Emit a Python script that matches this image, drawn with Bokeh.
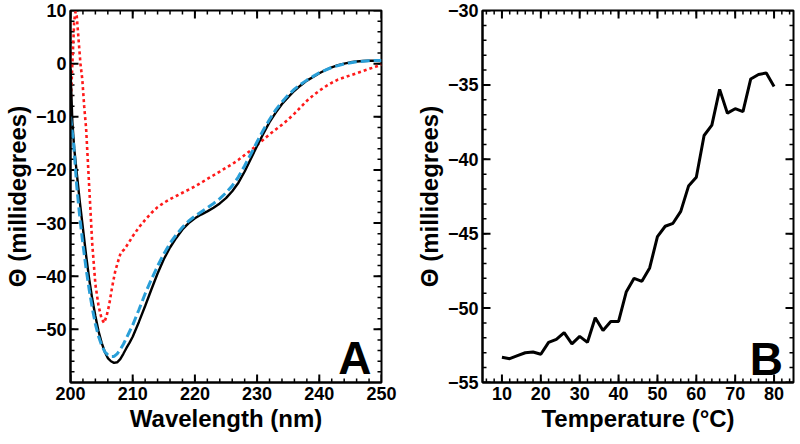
from bokeh.plotting import figure
from bokeh.layouts import row
from bokeh.models import FixedTicker, Label, Range1d
from bokeh.embed import file_html
from bokeh.resources import INLINE

# ---- Panel A data: CD spectra ----
wl_black = [200, 200.3, 200.6, 201, 201.5, 202, 202.5, 203, 203.5, 204, 204.5, 205, 205.5, 206,
            206.5, 207, 207.5, 208, 208.5, 209, 209.5, 210, 211, 212, 213, 214, 215, 216, 217,
            218, 219, 220, 221, 222, 223, 224, 225, 226, 227, 228, 229, 230, 231, 232, 233, 234,
            235, 236, 237, 238, 239, 240, 241, 242, 243, 244, 245, 246, 247, 248, 249, 250]
theta_black = [-1, -11, -16, -20.5, -26, -31, -36, -40.5, -44.3, -47.5, -50.3, -52.5, -54.2, -55.4,
               -56, -56.3, -56.2, -55.6, -54.6, -53.5, -52.5, -51.4, -48.6, -45.6, -42.5, -39.5,
               -36.8, -34.6, -32.8, -31.2, -30, -29.1, -28.4, -27.8, -27.1, -26.3, -25.3, -24,
               -22.4, -20.3, -17.9, -15.5, -13.2, -11, -9.2, -7.6, -6.3, -5.1, -4.1, -3.2, -2.5,
               -1.8, -1.2, -0.7, -0.3, 0, 0.25, 0.4, 0.5, 0.55, 0.55, 0.5]

wl_blue = [200, 200.5, 201, 201.5, 202, 202.5, 203, 203.5, 204, 204.5, 205, 205.5, 206, 206.5,
           207, 207.5, 208, 208.5, 209, 209.5, 210, 211, 212, 213, 214, 215, 216, 217, 218, 219,
           220, 221, 222, 223, 224, 225, 226, 227, 228, 229, 230, 231, 232, 233, 234, 235, 236,
           237, 238, 239, 240, 242, 244, 246, 248, 250]
theta_blue = [-10, -15, -23, -29, -34, -38.5, -42.5, -46, -49, -51.3, -53, -54.2, -54.8, -55.1,
              -55.1, -54.6, -53.8, -52.8, -51.6, -50.4, -49.2, -46.3, -43.3, -40.6, -38.1, -35.8,
              -33.8, -32.2, -30.8, -29.6, -28.7, -27.9, -27.1, -26.3, -25.4, -24.3, -23, -21.3,
              -19.2, -17, -14.7, -12.5, -10.5, -8.7, -7.2, -5.9, -4.8, -3.9, -3.1, -2.4, -1.7,
              -0.7, -0.05, 0.35, 0.55, 0.6]

wl_red = [200, 200.3, 200.6, 200.8, 201.0, 201.3, 201.6, 201.9, 202.2, 202.5, 203.0, 203.5, 204.0,
          204.5, 205.0, 205.4, 205.8, 206.2, 206.7, 207.2, 207.7, 208.1, 208.6, 209.2, 210, 211,
          212, 213, 214, 215, 216, 217, 218, 219, 220, 221, 222, 223, 224, 225, 226, 227, 228,
          229, 230, 231, 232, 233, 234, 235, 236, 237, 238, 239, 240, 241, 242, 243, 244, 245,
          246, 247, 248, 249, 250]
theta_red = [-8.6, 0, 8, 9.8, 9, 4.5, 0, -3, -8, -12, -23, -34, -41.5, -45.5, -48, -48.8, -47.5,
             -45.5, -42, -39, -37, -35.5, -35, -34, -32.5, -30.8, -29.4, -28.1, -27, -26.2, -25.5,
             -24.9, -24.3, -23.7, -23.1, -22.4, -21.7, -21, -20.3, -19.6, -18.9, -18.1, -17.2,
             -16.3, -15.3, -14.3, -13.3, -12.4, -11.5, -10.5, -9.4, -8.2, -7, -6, -5.1, -4.3,
             -3.6, -3.0, -2.6, -2.2, -1.8, -1.4, -1.0, -0.6, -0.2]

# ---- Panel B data: thermal melt ----
temperature = [10, 12, 14, 16, 18, 20, 22, 24, 26, 28, 30, 32, 34, 36, 38, 40, 42, 44, 46, 48,
               50, 52, 54, 56, 58, 60, 62, 64, 66, 68, 70, 72, 74, 76, 78, 80]
theta_temp = [-53.3, -53.4, -53.2, -53.0, -52.95, -53.1, -52.3, -52.1, -51.65, -52.4, -51.9,
              -52.3, -50.65, -51.5, -50.9, -50.9, -48.9, -48.0, -48.2, -47.3, -45.2, -44.5,
              -44.3, -43.5, -41.8, -41.2, -38.4, -37.7, -35.3, -36.9, -36.6, -36.8, -34.6,
              -34.3, -34.2, -35.1]

# ticks
a_x_ticks = [200, 210, 220, 230, 240, 250]
a_x_minor = list(range(202, 250, 2))
a_y_ticks = [-50, -40, -30, -20, -10, 0, 10]
a_y_minor = list(range(-58, 10, 2))
b_x_ticks = [10, 20, 30, 40, 50, 60, 70, 80]
b_x_minor = list(range(6, 85, 2))
b_y_ticks = [-55, -50, -45, -40, -35, -30]
b_y_minor = list(range(-54, -30, 1))

FONT = "Liberation Sans"
FRAME_W = 311
FRAME_H = 372
MAJOR_LEN = 8
MINOR_LEN = 4


def make_panel(xr, yr, xt, xm, yt, ym, xlabel, ylabel, left, right):
    p = figure(frame_width=FRAME_W, frame_height=FRAME_H, x_range=Range1d(*xr),
               y_range=Range1d(*yr), output_backend="svg", toolbar_location=None,
               min_border_left=left, min_border_right=right,
               min_border_top=10, min_border_bottom=44)
    p.xgrid.visible = False
    p.ygrid.visible = False
    p.outline_line_color = "black"
    p.outline_line_width = 2
    p.background_fill_color = "white"
    p.border_fill_color = "white"
    p.xaxis.ticker = FixedTicker(ticks=xt)
    p.yaxis.ticker = FixedTicker(ticks=yt)
    p.xaxis.axis_label = xlabel
    p.yaxis.axis_label = ylabel
    for ax in (p.xaxis[0], p.yaxis[0]):
        ax.axis_line_color = "black"
        ax.axis_line_width = 2
        ax.major_tick_in = 0
        ax.major_tick_out = 0
        ax.minor_tick_in = 0
        ax.minor_tick_out = 0
        ax.major_label_text_font = FONT
        ax.major_label_text_font_style = "bold"
        ax.major_label_text_font_size = "18px"
        ax.major_label_text_color = "black"
        ax.major_label_standoff = 4
        ax.axis_label_text_font = FONT
        ax.axis_label_text_font_style = "bold"
        ax.axis_label_text_font_size = "24px"
        ax.axis_label_text_color = "black"
        ax.axis_label_standoff = 2
    x0, x1 = xr
    y0, y1 = yr
    ux = (x1 - x0) / FRAME_W   # data units per screen pixel
    uy = (y1 - y0) / FRAME_H
    # inward ticks on all four sides, drawn as short segments
    for vals, ln, lw in ((xt, MAJOR_LEN, 2), (xm, MINOR_LEN, 1.5)):
        n = len(vals)
        p.segment(x0=vals, y0=[y0] * n, x1=vals, y1=[y0 + ln * uy] * n,
                  line_color="black", line_width=lw)
        p.segment(x0=vals, y0=[y1] * n, x1=vals, y1=[y1 - ln * uy] * n,
                  line_color="black", line_width=lw)
    for vals, ln, lw in ((yt, MAJOR_LEN, 2), (ym, MINOR_LEN, 1.5)):
        n = len(vals)
        p.segment(x0=[x0] * n, y0=vals, x1=[x0 + ln * ux] * n, y1=vals,
                  line_color="black", line_width=lw)
        p.segment(x0=[x1] * n, y0=vals, x1=[x1 - ln * ux] * n, y1=vals,
                  line_color="black", line_width=lw)
    return p


# Panel A
pA = make_panel((200, 250), (-60, 10), a_x_ticks, a_x_minor, a_y_ticks, a_y_minor,
                "Wavelength (nm)", "Θ (millidegrees)", 59, 22)
pA.line(wl_red, theta_red, line_color="#ff1a1a", line_width=2.6, line_dash="3 3")
pA.line(wl_black, theta_black, line_color="black", line_width=2.4)
pA.line(wl_blue, theta_blue, line_color="#2a9fd8", line_width=3, line_dash="9 4")
pA.add_layout(Label(x=248.4, y=-50.5, text="A", text_align="right", text_baseline="top",
                    text_font=FONT, text_font_style="bold", text_font_size="46px",
                    text_color="black"))

# Panel B
pB = make_panel((5, 85), (-55, -30), b_x_ticks, b_x_minor, b_y_ticks, b_y_minor,
                "Temperature (°C)", "Θ (millidegrees)", 79, 2)
pB.line(temperature, theta_temp, line_color="black", line_width=3)
pB.add_layout(Label(x=82.3, y=-51.65, text="B", text_align="right", text_baseline="top",
                    text_font=FONT, text_font_style="bold", text_font_size="46px",
                    text_color="black"))

layout = row(pA, pB, spacing=0)
open("out.html", "w").write(file_html(layout, INLINE))
